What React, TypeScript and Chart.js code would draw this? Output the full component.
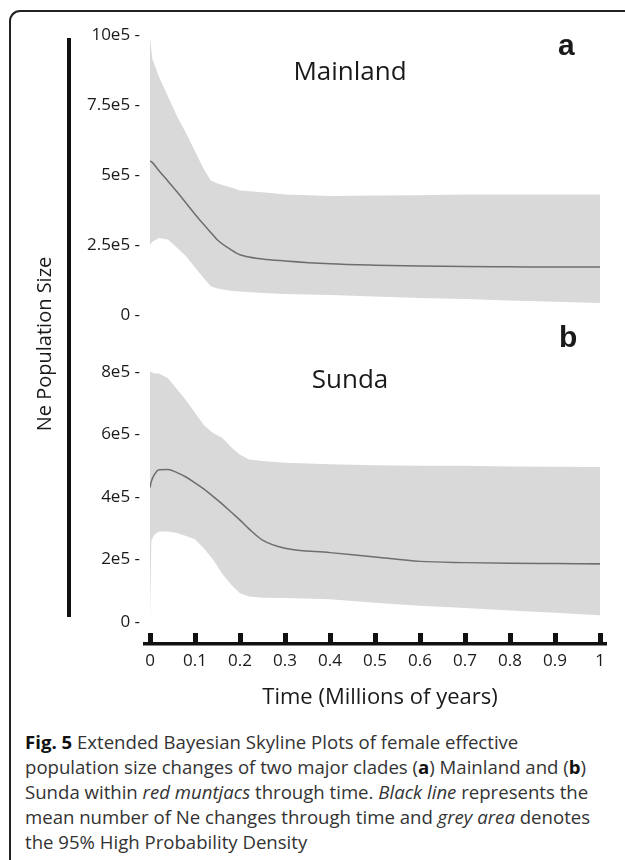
import React, { useEffect, useRef } from 'react';
import { Chart, registerables } from 'chart.js';

Chart.register(...registerables);

// ---- Data (time in millions of years, Ne values) ----
const timesA = [0, 0.005, 0.02, 0.04, 0.06, 0.08, 0.1, 0.12, 0.135, 0.15, 0.18, 0.2, 0.25, 0.3, 0.4, 0.5, 0.6, 0.7, 0.8, 0.9, 1.0];
const upperA = [9.9e5, 9.15e5, 8.5e5, 7.8e5, 7.1e5, 6.5e5, 5.85e5, 5.2e5, 4.8e5, 4.7e5, 4.55e5, 4.45e5, 4.38e5, 4.3e5, 4.25e5, 4.27e5, 4.28e5, 4.3e5, 4.3e5, 4.3e5, 4.3e5];
const meanA = [5.5e5, 5.45e5, 5.15e5, 4.78e5, 4.4e5, 4.0e5, 3.6e5, 3.22e5, 2.95e5, 2.68e5, 2.33e5, 2.15e5, 2.0e5, 1.93e5, 1.83e5, 1.78e5, 1.75e5, 1.73e5, 1.72e5, 1.71e5, 1.71e5];
const lowerA = [2.5e5, 2.62e5, 2.75e5, 2.7e5, 2.4e5, 2.1e5, 1.7e5, 1.3e5, 1.03e5, 0.95e5, 0.87e5, 0.84e5, 0.79e5, 0.75e5, 0.71e5, 0.66e5, 0.61e5, 0.57e5, 0.52e5, 0.47e5, 0.43e5];

const timesB = [0, 0.003, 0.01, 0.02, 0.04, 0.06, 0.08, 0.1, 0.12, 0.14, 0.16, 0.18, 0.2, 0.22, 0.25, 0.3, 0.4, 0.5, 0.6, 0.7, 0.8, 0.9, 1.0];
const upperB = [8.0e5, 8.0e5, 7.95e5, 7.95e5, 7.8e5, 7.45e5, 7.1e5, 6.7e5, 6.3e5, 6.05e5, 5.9e5, 5.6e5, 5.35e5, 5.2e5, 5.15e5, 5.1e5, 5.05e5, 5.02e5, 5.0e5, 5.0e5, 4.98e5, 4.97e5, 4.96e5];
const meanB = [4.3e5, 4.5e5, 4.72e5, 4.87e5, 4.88e5, 4.78e5, 4.64e5, 4.45e5, 4.25e5, 4.02e5, 3.78e5, 3.52e5, 3.26e5, 2.98e5, 2.62e5, 2.36e5, 2.22e5, 2.08e5, 1.94e5, 1.9e5, 1.88e5, 1.87e5, 1.86e5];
const lowerB = [0, 2.6e5, 2.8e5, 2.9e5, 2.9e5, 2.85e5, 2.75e5, 2.65e5, 2.35e5, 2.0e5, 1.55e5, 1.2e5, 0.92e5, 0.82e5, 0.78e5, 0.77e5, 0.73e5, 0.62e5, 0.52e5, 0.45e5, 0.37e5, 0.3e5, 0.22e5];

const ticksA = [0, 2.5e5, 5e5, 7.5e5, 10e5];
const tickLabelsA = ['0 -', '2.5e5 -', '5e5 -', '7.5e5 -', '10e5 -'];
const ticksB = [0, 2e5, 4e5, 6e5, 8e5];
const tickLabelsB = ['0 -', '2e5 -', '4e5 -', '6e5 -', '8e5 -'];
const xTicks = [0, 0.1, 0.2, 0.3, 0.4, 0.5, 0.6, 0.7, 0.8, 0.9, 1];
const xTickLabels = ['0', '0.1', '0.2', '0.3', '0.4', '0.5', '0.6', '0.7', '0.8', '0.9', '1'];

const panelTitles = ['Mainland', 'Sunda'];
const panelLetters = ['a', 'b'];
const yTitle = 'Ne Population Size';
const xTitle = 'Time (Millions of years)';

const FILL = '#d9d9d9';
const MEAN = '#6e6e6e';
const INK = '#1a1a1a';
const FONT = '"Open Sans", "Noto Sans", sans-serif';

const pts = (xs: number[], ys: number[]) => xs.map((x, i) => ({ x, y: ys[i] }));

const decorPlugin = {
  id: 'decor',
  afterDraw(chart: any) {
    const { ctx, chartArea, scales } = chart;
    const xs = scales.x;
    ctx.save();
    // x axis line
    const axY = chartArea.bottom + 10;
    ctx.fillStyle = '#111';
    const x0 = xs.getPixelForValue(0) - 7;
    const x1 = xs.getPixelForValue(1) + 7;
    ctx.fillRect(x0, axY - 1, x1 - x0, 3.5);
    // vertical black bar
    ctx.fillRect(67, 38, 4, 579);
    // y title
    ctx.fillStyle = INK;
    ctx.font = `20px ${FONT}`;
    ctx.textAlign = 'center';
    ctx.textBaseline = 'middle';
    ctx.save();
    ctx.translate(45, 344);
    ctx.rotate(-Math.PI / 2);
    ctx.fillText(yTitle, 0, 0);
    ctx.restore();
    // x title
    ctx.font = `22px ${FONT}`;
    ctx.fillText(xTitle, 380, 698);
    // panel titles
    ctx.textBaseline = 'alphabetic';
    ctx.font = `26px ${FONT}`;
    ctx.fillText(panelTitles[0], 350, 80);
    ctx.fillText(panelTitles[1], 350, 388);
    // panel letters
    ctx.textAlign = 'left';
    ctx.font = 'bold 30px "Liberation Sans", Arial, sans-serif';
    ctx.fillText(panelLetters[0], 558, 55);
    ctx.fillText(panelLetters[1], 559, 347);
    ctx.restore();
  },
};

export default function App() {
  const ref = useRef<HTMLCanvasElement | null>(null);

  useEffect(() => {
    if (!ref.current) return;
    const tickFont = { family: FONT, size: 17 };
    const band = (xs: number[], ys: number[], axis: string, fill: any) => ({
      data: pts(xs, ys),
      yAxisID: axis,
      fill,
      backgroundColor: FILL,
      borderWidth: 0,
      borderColor: 'rgba(0,0,0,0)',
      pointRadius: 0,
      tension: 0,
    });
    const mean = (xs: number[], ys: number[], axis: string) => ({
      data: pts(xs, ys),
      yAxisID: axis,
      fill: false,
      borderColor: MEAN,
      borderWidth: 1.5,
      pointRadius: 0,
      cubicInterpolationMode: 'monotone',
    });
    const yAxis = (ticks: number[], labels: string[], min: number, max: number, weight: number) => ({
      type: 'linear',
      position: 'left',
      stack: 'panels',
      stackWeight: weight,
      min,
      max,
      afterBuildTicks: (s: any) => {
        s.ticks = ticks.map((v) => ({ value: v }));
      },
      afterFit: (s: any) => {
        s.width = 150;
      },
      ticks: {
        callback: (v: number) => labels[ticks.indexOf(v)] ?? '',
        font: tickFont,
        color: INK,
        padding: 10,
        autoSkip: false,
      },
      grid: { display: false, drawTicks: false },
      border: { display: false },
    });

    const chart = new Chart(ref.current, {
      type: 'line',
      data: {
        datasets: [
          mean(timesA, meanA, 'yA'),
          band(timesA, upperA, 'yA', '+1'),
          band(timesA, lowerA, 'yA', false),
          mean(timesB, meanB, 'yB'),
          band(timesB, upperB, 'yB', '+1'),
          band(timesB, lowerB, 'yB', false),
        ] as any,
      },
      options: {
        animation: false,
        responsive: false,
        events: [],
        layout: { padding: { left: 0, right: 25, top: 30, bottom: 0 } },
        plugins: { legend: { display: false }, tooltip: { enabled: false } },
        scales: {
          x: {
            type: 'linear',
            min: 0,
            max: 1,
            position: 'bottom',
            afterBuildTicks: (s: any) => {
              s.ticks = xTicks.map((v) => ({ value: v }));
            },
            afterFit: (s: any) => {
              s.height = 87;
            },
            ticks: {
              callback: (v: number) => xTickLabels[xTicks.indexOf(v)] ?? '',
              font: tickFont,
              color: INK,
              padding: 8,
              maxRotation: 0,
              autoSkip: false,
            },
            grid: { drawOnChartArea: false, drawTicks: true, tickLength: 10, tickWidth: 5, lineWidth: 5, color: '#111', tickColor: '#111' },
            border: { display: false },
          },
          // stacked panels: the scale defined later is placed on top
          yB: yAxis(ticksB, tickLabelsB, -0.352e5, 9.024e5, 293),
          yA: yAxis(ticksA, tickLabelsA, -0.893e5, 10.179e5, 310),
        } as any,
      },
      plugins: [decorPlugin],
    });
    return () => chart.destroy();
  }, []);

  const captionStyle: React.CSSProperties = {
    position: 'absolute',
    left: 25,
    top: 729,
    fontFamily: FONT,
    fontSize: 18.6,
    lineHeight: '25px',
    color: '#333',
    whiteSpace: 'nowrap',
  };

  return (
    <div style={{ position: 'absolute', left: 0, top: 0, width: 625, height: 860, overflow: 'hidden', background: '#fff' }}>
      <div
        style={{
          position: 'absolute',
          left: 9,
          top: 10,
          width: 700,
          height: 900,
          borderLeft: '2px solid #222',
          borderTop: '2px solid #222',
          borderTopLeftRadius: 11,
        }}
      />
      <canvas ref={ref} width={625} height={720} style={{ position: 'absolute', left: 0, top: 0 }} />
      <div style={captionStyle}>
        <b style={{ color: '#111' }}>Fig. 5</b> Extended Bayesian Skyline Plots of female effective
        <br />
        population size changes of two major clades (<b style={{ color: '#111' }}>a</b>) Mainland and (<b style={{ color: '#111' }}>b</b>)
        <br />
        Sunda within <i>red muntjacs</i> through time. <i>Black line</i> represents the
        <br />
        mean number of Ne changes through time and <i>grey area</i> denotes
        <br />
        the 95% High Probability Density
      </div>
    </div>
  );
}
